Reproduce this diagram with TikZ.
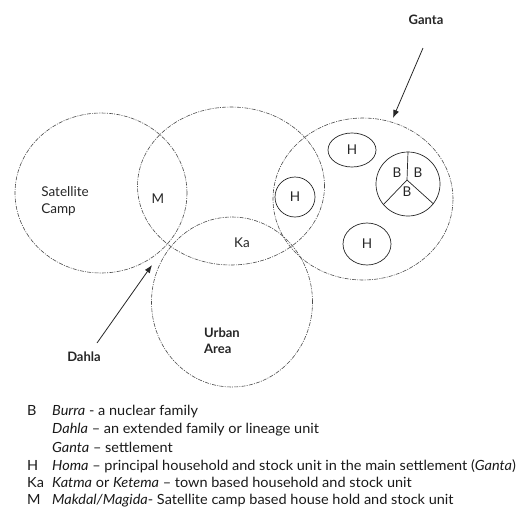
\documentclass[tikz,border=0pt]{standalone}
\usepackage{fontspec}
\setmainfont{Lato}
\newfontfamily\legfont{Lato}[FakeStretch=1.035]
\usetikzlibrary{shapes.geometric,arrows.meta}
\begin{document}
\begin{tikzpicture}[x=1pt,y=-1pt,
  zone/.style={ellipse,draw=black!70,line width=0.6pt,dash pattern=on 4pt off 1.2pt on 1pt off 1.2pt,inner sep=0pt},
  unit/.style={ellipse,draw=black!85,line width=0.7pt,inner sep=0pt},
  lbl/.style={font=\fontsize{13.5}{17}\selectfont,text=black!85,inner sep=0pt},
  blbl/.style={font=\fontsize{13}{16}\selectfont\bfseries,text=black!85,inner sep=0pt,align=left},
  ptr/.style={line width=0.8pt,draw=black!85,-{Latex[length=8pt,width=6pt]}},
  leg/.style={font=\legfont\fontsize{14}{16}\selectfont,text=black!90,inner sep=0pt,anchor=base west}
]
\useasboundingbox (0,0) rectangle (519,509);
% big zones
\node[zone,minimum width=172pt,minimum height=160pt] (sat) at (101,193) {};
\node[zone,minimum width=187pt,minimum height=158pt] (mid) at (231,186) {};
\node[zone,minimum width=161pt,minimum height=170pt] (urb) at (232,302) {};
\node[zone,minimum width=180pt,minimum height=162pt] (gan) at (363,199) {};
% household units
\node[unit,minimum width=48pt,minimum height=34pt] (h1) at (352,150) {};
\node[unit,minimum width=40pt,minimum height=40pt] (h2) at (295,197) {};
\node[unit,minimum width=48pt,minimum height=42pt] (h3) at (367,244) {};
\node[unit,minimum width=64pt,minimum height=64pt] (bb) at (408,184) {};
\coordinate (bc) at (407,180);
\draw[black!85,line width=0.7pt] (bc) -- (bb.north);
\draw[black!85,line width=0.7pt] (bc) -- (bb.-140);
\draw[black!85,line width=0.7pt] (bc) -- (bb.-38);
% labels
\node[lbl,align=left] (satl) at (65,201) {Satellite\\Camp};
\node[lbl] (ml) at (158,199) {M};
\node[lbl] (kal) at (242,243) {Ka};
\node[lbl] (h1l) at (h1) {H};
\node[lbl] (h2l) at (h2) {H};
\node[lbl] (h3l) at (h3) {H};
\node[lbl] (b1) at (397,173) {B};
\node[lbl] (b2) at (418,173) {B};
\node[lbl] (b3) at (407,192) {B};
\node[blbl] (urbl) at (222,341) {Urban\\Area};
\node[blbl] (gantal) at (426,20) {Ganta};
\node[blbl] (dahlal) at (84,357) {Dahla};
% pointers
\coordinate (gstart) at (423,48);
\coordinate (gend) at (393,118);
\draw[ptr] (gstart) -- (gend);
\coordinate (dstart) at (97,343);
\coordinate (dend) at (152,265);
\draw[ptr] (dstart) -- (dend);
% legend
\node[leg] (k1) at (27,415) {B};
\node[leg] (t1) at (52,415) {\textit{Burra} - a nuclear family};
\node[leg] (t2) at (52,433) {\textit{Dahla} – an extended family or lineage unit};
\node[leg] (t3) at (52,452) {\textit{Ganta} – settlement};
\node[leg] (k4) at (27,470) {H};
\node[leg] (t4) at (52,470) {\textit{Homa} – principal household and stock unit in the main settlement (\textit{Ganta})};
\node[leg] (k5) at (27,487) {Ka};
\node[leg] (t5) at (52,487) {\textit{Katma} or \textit{Ketema} – town based household and stock unit};
\node[leg] (k6) at (27,504) {M};
\node[leg] (t6) at (52,504) {\textit{Makdal/Magida}- Satellite camp based house hold and stock unit};
\end{tikzpicture}
\end{document}
